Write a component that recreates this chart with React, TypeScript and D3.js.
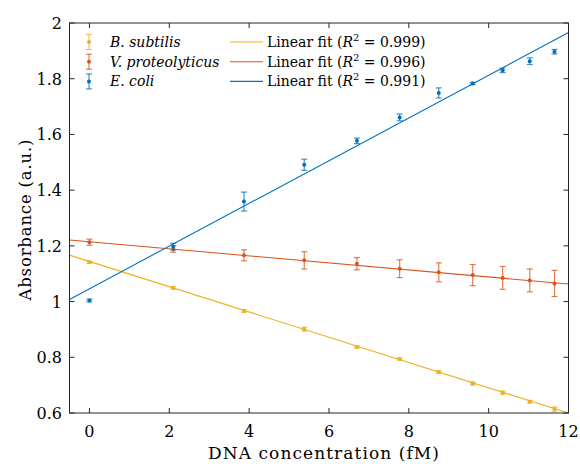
import React, { useRef, useEffect } from "react";
import * as d3 from "d3";

// concentrations (fM) at which each strain was measured
const concentrations = [0, 2.1, 3.87, 5.38, 6.7, 7.77, 8.75, 9.6, 10.35, 11.03, 11.65];

const subtilisMean = [1.141, 1.049, 0.966, 0.901, 0.837, 0.794, 0.747, 0.706, 0.673, 0.64, 0.614];
const subtilisErr = [0.004, 0.004, 0.005, 0.007, 0.004, 0.004, 0.005, 0.006, 0.006, 0.005, 0.008];

const proteoMean = [1.213, 1.189, 1.166, 1.148, 1.136, 1.118, 1.105, 1.095, 1.085, 1.076, 1.065];
const proteoErr = [0.011, 0.012, 0.02, 0.031, 0.022, 0.032, 0.034, 0.038, 0.041, 0.041, 0.047];

const coliMean = [1.004, 1.197, 1.359, 1.491, 1.577, 1.661, 1.749, 1.783, 1.83, 1.863, 1.897];
const coliErr = [0.005, 0.012, 0.034, 0.02, 0.01, 0.012, 0.018, 0.004, 0.008, 0.012, 0.008];

// linear fits [intercept, slope]
const subtilisFit = [1.144, -0.04536];
const proteoFit = [1.2147, -0.01264];
const coliFit = [1.046, 0.07664];

const xTicks = [0, 2, 4, 6, 8, 10, 12];
const yTicks = [0.6, 0.8, 1, 1.2, 1.4, 1.6, 1.8, 2];

const series = [
  { name: "B. subtilis", r2: "0.999", color: "#EDB120", mean: subtilisMean, err: subtilisErr, fit: subtilisFit },
  { name: "V. proteolyticus", r2: "0.996", color: "#D95319", mean: proteoMean, err: proteoErr, fit: proteoFit },
  { name: "E. coli", r2: "0.991", color: "#0072BD", mean: coliMean, err: coliErr, fit: coliFit },
];

const App = () => {
  const svgRef = useRef<SVGSVGElement>(null);
  const width = 580;
  const height = 467;
  const margin = { top: 23, right: 11.5, bottom: 54, left: 69.5 };
  const font = "DejaVu Serif";

  useEffect(() => {
    const svg = d3.select(svgRef.current);
    svg.selectAll("*").remove();

    const x = d3.scaleLinear().domain([-0.5, 12]).range([margin.left, width - margin.right]);
    const y = d3.scaleLinear().domain([0.6, 2]).range([height - margin.bottom, margin.top]);

    const plot = svg.append("g");

    // fit lines
    series.forEach((s) => {
      const line = d3
        .line<number>()
        .x((d) => x(d))
        .y((d) => y(s.fit[0] + s.fit[1] * d));
      plot
        .append("path")
        .attr("d", line(x.domain()))
        .attr("fill", "none")
        .attr("stroke", s.color)
        .attr("stroke-width", 1.1);
    });

    // error bars
    series.forEach((s) => {
      const g = plot.append("g");
      concentrations.forEach((c, i) => {
        const cx = x(c);
        const y0 = y(s.mean[i] - s.err[i]);
        const y1 = y(s.mean[i] + s.err[i]);
        const bar = g.append("g").attr("stroke", s.color).attr("stroke-opacity", 0.75).attr("stroke-width", 1.2);
        bar.append("line").attr("x1", cx).attr("x2", cx).attr("y1", y0).attr("y2", y1);
        bar.append("line").attr("x1", cx - 3).attr("x2", cx + 3).attr("y1", y0).attr("y2", y0);
        bar.append("line").attr("x1", cx - 3).attr("x2", cx + 3).attr("y1", y1).attr("y2", y1);
        g.append("circle").attr("cx", cx).attr("cy", y(s.mean[i])).attr("r", 2).attr("fill", s.color);
      });
    });

    // axes box with inward ticks
    const axisColor = "#262626";
    const tl = 5;
    const axes = svg.append("g").attr("font-family", font).attr("fill", "#000");

    axes
      .append("rect")
      .attr("x", margin.left)
      .attr("y", margin.top)
      .attr("width", width - margin.left - margin.right)
      .attr("height", height - margin.top - margin.bottom)
      .attr("fill", "none")
      .attr("stroke", axisColor)
      .attr("stroke-width", 1);

    xTicks.forEach((t) => {
      const px = x(t);
      axes.append("line").attr("x1", px).attr("x2", px).attr("y1", y.range()[0]).attr("y2", y.range()[0] - tl).attr("stroke", axisColor);
      axes.append("line").attr("x1", px).attr("x2", px).attr("y1", y.range()[1]).attr("y2", y.range()[1] + tl).attr("stroke", axisColor);
      axes
        .append("text")
        .attr("x", px)
        .attr("y", y.range()[0] + 24)
        .attr("text-anchor", "middle")
        .attr("font-size", 16)
        .text(d3.format("d")(t));
    });

    yTicks.forEach((t) => {
      const py = y(t);
      axes.append("line").attr("x1", x.range()[0]).attr("x2", x.range()[0] + tl).attr("y1", py).attr("y2", py).attr("stroke", axisColor);
      axes.append("line").attr("x1", x.range()[1]).attr("x2", x.range()[1] - tl).attr("y1", py).attr("y2", py).attr("stroke", axisColor);
      axes
        .append("text")
        .attr("x", x.range()[0] - 7.5)
        .attr("y", py + 6)
        .attr("text-anchor", "end")
        .attr("font-size", 16)
        .text(String(t));
    });

    axes
      .append("text")
      .attr("x", 323.5)
      .attr("y", 459)
      .attr("text-anchor", "middle")
      .attr("font-size", 17)
      .attr("textLength", 231)
      .attr("lengthAdjust", "spacing")
      .text("DNA concentration (fM)");

    axes
      .append("text")
      .attr("transform", "translate(31,220) rotate(-90)")
      .attr("text-anchor", "middle")
      .attr("font-size", 16.5)
      .attr("textLength", 161)
      .attr("lengthAdjust", "spacing")
      .text("Absorbance (a.u.)");

    // legend
    const legend = svg.append("g").attr("font-family", font).attr("font-size", 14);
    series.forEach((s, i) => {
      const ly = 42 + i * 19.7;
      const lx = 89;
      const bar = legend.append("g").attr("stroke", s.color).attr("stroke-opacity", 0.75).attr("stroke-width", 1.2);
      bar.append("line").attr("x1", lx).attr("x2", lx).attr("y1", ly - 7.5).attr("y2", ly + 7.5);
      bar.append("line").attr("x1", lx - 3).attr("x2", lx + 3).attr("y1", ly - 7.5).attr("y2", ly - 7.5);
      bar.append("line").attr("x1", lx - 3).attr("x2", lx + 3).attr("y1", ly + 7.5).attr("y2", ly + 7.5);
      legend.append("circle").attr("cx", lx).attr("cy", ly).attr("r", 2).attr("fill", s.color);
      legend
        .append("text")
        .attr("x", 110)
        .attr("y", ly + 5)
        .attr("font-style", "italic")
        .text(s.name);

      legend
        .append("line")
        .attr("x1", 230)
        .attr("x2", 263)
        .attr("y1", ly)
        .attr("y2", ly)
        .attr("stroke", s.color)
        .attr("stroke-width", 1.1);
      const txt = legend.append("text").attr("x", 267).attr("y", ly + 5);
      txt.append("tspan").text("Linear fit (");
      txt.append("tspan").attr("font-style", "italic").text("R");
      txt.append("tspan").attr("font-size", 10).attr("dy", -6).text("2");
      txt.append("tspan").attr("dy", 6).text(` = ${s.r2})`);
    });
  }, []);

  return <svg ref={svgRef} width={width} height={height} style={{ position: "absolute", left: 0, top: 0 }}></svg>;
};

export default App;
